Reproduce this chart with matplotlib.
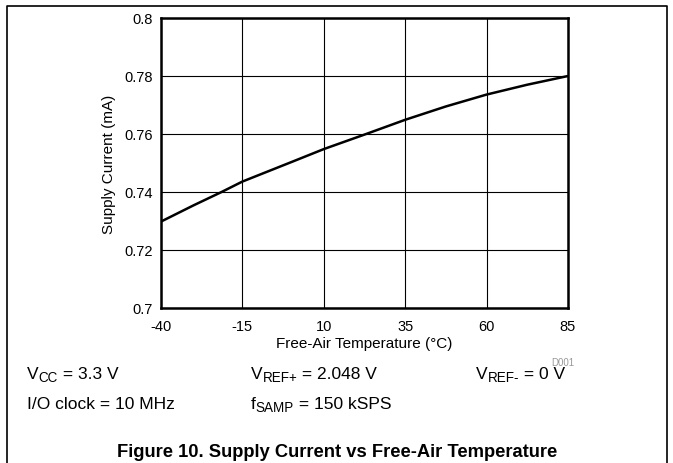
import matplotlib
matplotlib.use('Agg')
import matplotlib.pyplot as plt
from matplotlib.lines import Line2D
from matplotlib.transforms import offset_copy

# Supply current vs free-air temperature
temp_c = [-40, -30, -21.4, -15, 0, 10, 23, 35, 47.5, 60, 72.5, 85]
supply_ma = [0.7298, 0.7354, 0.7400, 0.7436, 0.7503, 0.7548, 0.7600, 0.7649, 0.7695, 0.7736, 0.7770, 0.7800]

x_ticks = [-40, -15, 10, 35, 60, 85]
y_ticks = [0.7, 0.72, 0.74, 0.76, 0.78, 0.8]
y_ticklabels = ['0.7', '0.72', '0.74', '0.76', '0.78', '0.8']

plt.rcParams['font.family'] = ['Liberation Sans', 'DejaVu Sans']
plt.rcParams['axes.unicode_minus'] = False

W, H = 673, 464
fig = plt.figure(figsize=(W / 100, H / 100), dpi=100)
ax = fig.add_axes([161 / W, 1 - 309 / H, (568 - 161) / W, (309 - 19) / H])

ax.plot(temp_c, supply_ma, color='black', linewidth=1.8, solid_capstyle='butt')
ax.set_xlim(-40, 85)
ax.set_ylim(0.7, 0.8)
ax.set_xticks(x_ticks)
ax.set_yticks(y_ticks)
ax.set_yticklabels(y_ticklabels)
ax.tick_params(length=0, labelsize=10.5)
ax.tick_params(axis='x', pad=8)
ax.tick_params(axis='y', pad=6)
ax.grid(True, color='black', linewidth=0.8)
for s in ax.spines.values():
    s.set_linewidth(1.8)

ax.set_xlabel('Free-Air Temperature (°C)', fontsize=11, labelpad=2)
ax.set_ylabel('Supply Current (mA)', fontsize=11, labelpad=6)

fig.text(574 / W, 1 - 363 / H, 'D001', fontsize=7, color='#999999', ha='right', va='center')

fs = 12.5
fig.canvas.draw()
renderer = fig.canvas.get_renderer()


def sub_text(x, y, parts):
    # parts: list of (text, is_subscript), laid out left to right
    dx = 0
    for s, is_sub in parts:
        tr = offset_copy(fig.transFigure, fig=fig, x=dx * 72 / 100,
                         y=(-3 if is_sub else 0) * 72 / 100, units='points')
        t = fig.text(x / W, 1 - y / H, s, fontsize=fs * (0.78 if is_sub else 1),
                     va='baseline', transform=tr)
        dx += t.get_window_extent(renderer).width


sub_text(27, 379, [('V', False), ('CC', True), (' = 3.3 V', False)])
sub_text(251, 379, [('V', False), ('REF+', True), (' = 2.048 V', False)])
sub_text(476, 379, [('V', False), ('REF-', True), (' = 0 V', False)])
fig.text(27 / W, 1 - 409 / H, 'I/O clock = 10 MHz', fontsize=fs, va='baseline')
sub_text(251, 409, [('f', False), ('SAMP', True), (' = 150 kSPS', False)])

fig.text(337 / W, 1 - 457 / H, 'Figure 10. Supply Current vs Free-Air Temperature',
         fontsize=13.2, fontweight='bold', ha='center', va='baseline')

# outer frame
bx = [7 / W, 7 / W, 667 / W, 667 / W]
by = [0, 1 - 7 / H, 1 - 7 / H, 0]
fig.add_artist(Line2D(bx, by, transform=fig.transFigure, color='black', linewidth=1.2))

fig.savefig('out.png', dpi=100)
